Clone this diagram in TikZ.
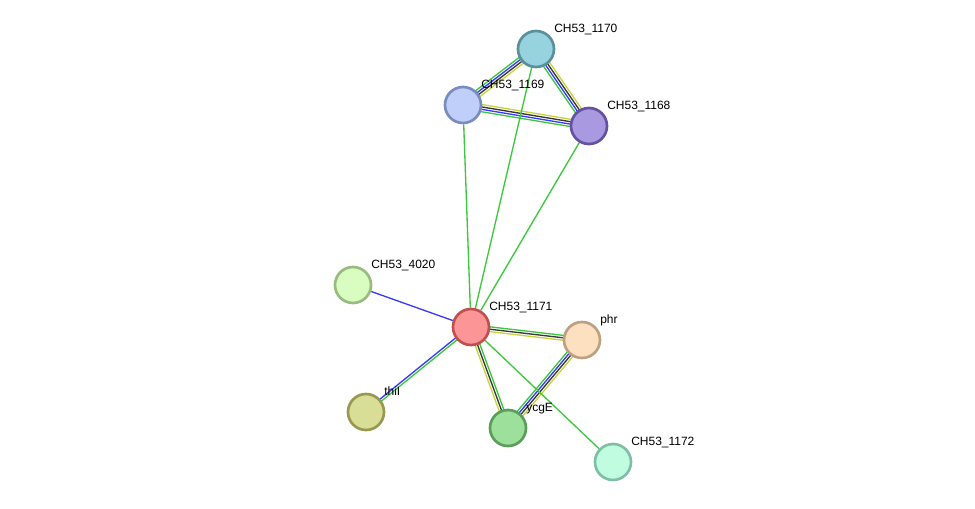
\documentclass[tikz,border=0pt]{standalone}
\usepackage{fontspec}
\setmainfont{Liberation Sans}
\usetikzlibrary{calc, backgrounds}

\definecolor{ngreen}{HTML}{3CC83C}
\definecolor{nblue}{HTML}{3838FF}
\definecolor{nblack}{HTML}{383838}
\definecolor{nyellow}{HTML}{C6D43E}

\tikzset{
  prot/.style={circle, draw, line width=2pt, minimum size=27pt, inner sep=0pt},
  pname/.style={anchor=base west, inner sep=0pt, font=\fontsize{9}{10}\selectfont},
  link/.style={line width=1pt},
}

% parallel evidence lines between two proteins
\newcommand{\evlinks}[4]{%
  \foreach \col [count=\i] in {#4} {
    \pgfmathsetmacro\off{(\i-(#3+1)/2)*1.8}
    \draw[link, \col] ($(#1)!\off pt!90:(#2)$) -- ($(#2)!\off pt!-90:(#1)$);
  }}

\begin{document}
\begin{tikzpicture}[x=0.75pt, y=-0.75pt]
    \useasboundingbox (0,0) rectangle (975,508);

    \node[prot, fill={rgb,255:red,150;green,211;blue,223}, draw={rgb,255:red,90;green,144;blue,156}] (p1170) at (536,49) {};
    \node[prot, fill={rgb,255:red,192;green,207;blue,250}, draw={rgb,255:red,122;green,139;blue,191}] (p1169) at (463,105) {};
    \node[prot, fill={rgb,255:red,168;green,153;blue,224}, draw={rgb,255:red,102;green,80;blue,160}] (p1168) at (589,126) {};
    \node[prot, fill={rgb,255:red,217;green,252;blue,192}, draw={rgb,255:red,152;green,187;blue,128}] (p4020) at (353,285) {};
    \node[prot, fill={rgb,255:red,252;green,150;blue,150}, draw={rgb,255:red,192;green,80;blue,80}] (p1171) at (471,327) {};
    \node[prot, fill={rgb,255:red,253;green,224;blue,192}, draw={rgb,255:red,188;green,160;blue,128}] (phr) at (582,340) {};
    \node[prot, fill={rgb,255:red,216;green,222;blue,150}, draw={rgb,255:red,153;green,152;blue,80}] (thiI) at (366,412) {};
    \node[prot, fill={rgb,255:red,156;green,224;blue,156}, draw={rgb,255:red,90;green,158;blue,90}] (ycgE) at (508,428) {};
    \node[prot, fill={rgb,255:red,192;green,252;blue,224}, draw={rgb,255:red,128;green,190;blue,168}] (p1172) at (613,462) {};

    \node[pname] (l1170) at ([xshift=13.5pt, yshift=12.75pt] p1170.center) {CH53\_1170};
    \node[pname] (l1169) at ([xshift=13.5pt, yshift=12.75pt] p1169.center) {CH53\_1169};
    \node[pname] (l1168) at ([xshift=13.5pt, yshift=12.75pt] p1168.center) {CH53\_1168};
    \node[pname] (l4020) at ([xshift=13.5pt, yshift=12.75pt] p4020.center) {CH53\_4020};
    \node[pname] (l1171) at ([xshift=13.5pt, yshift=12.75pt] p1171.center) {CH53\_1171};
    \node[pname] (lphr) at ([xshift=13.5pt, yshift=12.75pt] phr.center) {phr};
    \node[pname] (lthiI) at ([xshift=13.5pt, yshift=12.75pt] thiI.center) {thiI};
    \node[pname] (lycgE) at ([xshift=13.5pt, yshift=12.75pt] ycgE.center) {ycgE};
    \node[pname] (l1172) at ([xshift=13.5pt, yshift=12.75pt] p1172.center) {CH53\_1172};

    \begin{scope}[on background layer]
        \evlinks{p1170}{p1169}{4}{ngreen, nblue, nblack, nyellow}
        \evlinks{p1170}{p1168}{4}{ngreen, nblue, nblack, nyellow}
        \evlinks{p1169}{p1168}{4}{ngreen, nblue, nblack, nyellow}
        \evlinks{phr}{ycgE}{4}{ngreen, nblue, nblack, nyellow}
        \evlinks{p1171}{phr}{3}{nyellow, nblack, ngreen}
        \evlinks{p1171}{ycgE}{3}{nyellow, nblack, ngreen}
        \evlinks{p1171}{thiI}{2}{nblue, ngreen}
        \draw[link, ngreen] (p1169) -- (p1171);
        \draw[link, ngreen] (p1170) -- (p1171);
        \draw[link, ngreen] (p1168) -- (p1171);
        \draw[link, ngreen] (p1171) -- (p1172);
        \draw[link, nblue] (p4020) -- (p1171);
    \end{scope}
\end{tikzpicture}
\end{document}
